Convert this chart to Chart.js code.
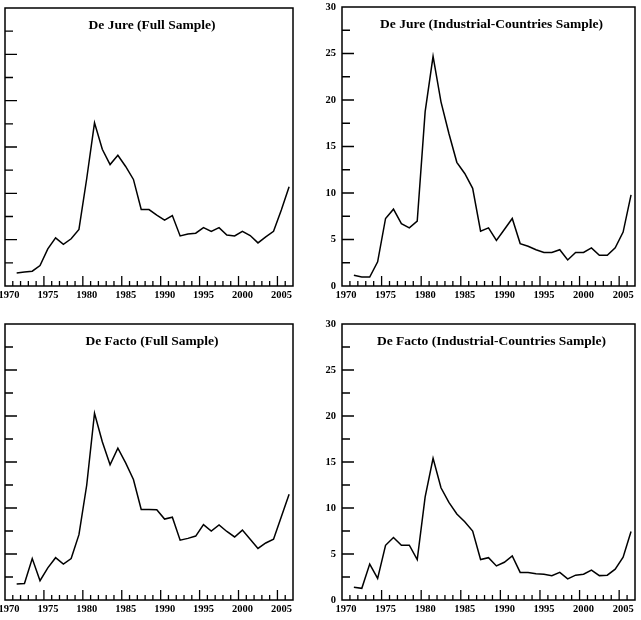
<!DOCTYPE html>
<html>
<head>
<meta charset="utf-8">
<script src="https://cdn.jsdelivr.net/npm/chart.js@4"></script>
<style>
  html, body { margin: 0; padding: 0; background: #fff; overflow: hidden; }
  body { width: 641px; height: 620px; position: relative; }
  .panel { position: absolute; }
</style>
</head>
<body>
<div class="panel" style="left:0px;top:0px;width:300px;height:310px"><canvas id="c1"></canvas></div>
<div class="panel" style="left:300px;top:0px;width:341px;height:310px"><canvas id="c2"></canvas></div>
<div class="panel" style="left:0px;top:310px;width:300px;height:310px"><canvas id="c3"></canvas></div>
<div class="panel" style="left:300px;top:310px;width:341px;height:310px"><canvas id="c4"></canvas></div>
<script>
// annual values, 1971-2006
var years = [];
for (var yr = 1971; yr <= 2006; yr++) years.push(yr);

var deJureFull = [1.4, 1.5, 1.6, 2.2, 4.0, 5.2, 4.5, 5.1, 6.1, 11.6, 17.6, 14.75, 13.1, 14.1, 12.9, 11.5,
  8.25, 8.25, 7.65, 7.1, 7.6, 5.4, 5.6, 5.7, 6.3, 5.9, 6.3, 5.5, 5.4, 5.9, 5.45, 4.65, 5.3, 5.9, 8.2, 10.7];
var deJureInd = [1.15, 0.97, 0.97, 2.6, 7.26, 8.26, 6.7, 6.25, 6.97, 18.75, 24.7, 19.8, 16.4, 13.3, 12.1, 10.5,
  5.9, 6.25, 4.9, 6.07, 7.26, 4.56, 4.28, 3.9, 3.6, 3.6, 3.9, 2.8, 3.6, 3.6, 4.1, 3.3, 3.3, 4.1, 5.8, 9.8];
var deFactoFull = [1.74, 1.8, 4.5, 2.1, 3.5, 4.6, 3.9, 4.5, 7.1, 12.5, 20.3, 17.2, 14.7, 16.5, 14.9, 13.1,
  9.85, 9.85, 9.8, 8.8, 9.0, 6.5, 6.7, 6.95, 8.2, 7.5, 8.15, 7.45, 6.85, 7.6, 6.6, 5.6, 6.2, 6.6, 9.05, 11.5];
var deFactoInd = [1.38, 1.27, 3.9, 2.35, 5.95, 6.8, 5.95, 5.95, 4.4, 11.2, 15.4, 12.2, 10.6, 9.35, 8.5, 7.5,
  4.4, 4.6, 3.7, 4.1, 4.8, 3.0, 3.0, 2.85, 2.8, 2.65, 3.0, 2.3, 2.7, 2.8, 3.25, 2.65, 2.7, 3.35, 4.65, 7.45];

var xTickLabels = [1970, 1975, 1980, 1985, 1990, 1995, 2000, 2005];
var yTickLabels = [0, 5, 10, 15, 20, 25, 30];

var serif = '"Liberation Serif", "DejaVu Serif", serif';

// box, inward tick marks and the title inside the plot
var framePlugin = {
  id: 'frame',
  afterDatasetsDraw(chart, args, opts) {
    var ctx = chart.ctx, a = chart.chartArea, x = chart.scales.x, y = chart.scales.y;
    ctx.save();
    ctx.strokeStyle = '#000';
    ctx.lineWidth = 1.3;
    ctx.beginPath();
    for (var v = 1971; v < 2007; v++) {
      var px = x.getPixelForValue(v);
      ctx.moveTo(px, a.bottom);
      ctx.lineTo(px, a.bottom - (v % 5 === 0 ? 10 : 5));
    }
    for (var w = 2.5; w < 30; w += 2.5) {
      var py = y.getPixelForValue(w);
      ctx.moveTo(a.left, py);
      ctx.lineTo(a.left + (w % 5 === 0 ? 12 : 8), py);
    }
    ctx.stroke();
    ctx.lineWidth = 1.5;
    ctx.strokeRect(a.left, a.top, a.right - a.left, a.bottom - a.top);
    ctx.fillStyle = '#000';
    ctx.font = 'bold 13.5px ' + serif;
    ctx.textAlign = 'center';
    ctx.textBaseline = 'middle';
    ctx.fillText(opts.text, (a.left + a.right) / 2 + 3, a.top + 18);
    ctx.restore();
  }
};

function makeChart(id, title, values, showY, yw, pad, xh) {
  return new Chart(document.getElementById(id), {
    type: 'line',
    data: {
      datasets: [{
        data: years.map((d, i) => ({ x: d + 0.5, y: values[i] })),
        borderColor: '#000',
        borderWidth: 1.5,
        pointRadius: 0,
        tension: 0,
        fill: false
      }]
    },
    options: {
      responsive: true,
      maintainAspectRatio: false,
      animation: false,
      layout: { padding: pad },
      plugins: {
        legend: { display: false },
        tooltip: { enabled: false },
        frame: { text: title }
      },
      scales: {
        x: {
          type: 'linear',
          min: 1970,
          max: 2007,
          grid: { display: false, drawTicks: false },
          border: { display: false },
          afterBuildTicks: s => { s.ticks = xTickLabels.map(v => ({ value: v })); },
          afterFit: s => { s.height = xh; s.paddingLeft = 0; s.paddingRight = 0; },
          ticks: {
            maxRotation: 0,
            autoSkip: false,
            labelOffset: 4,
            padding: 3,
            color: '#000',
            font: { family: serif, size: 10.5, weight: 'bold' },
            callback: v => String(v)
          }
        },
        y: {
          min: 0,
          max: 30,
          grid: { display: false, drawTicks: false },
          border: { display: false },
          afterBuildTicks: s => { s.ticks = yTickLabels.map(v => ({ value: v })); },
          afterFit: s => { s.width = yw; s.paddingTop = 0; s.paddingBottom = 0; },
          ticks: {
            display: showY,
            padding: 6,
            color: '#000',
            font: { family: serif, size: 10.5, weight: 'bold' }
          }
        }
      }
    },
    plugins: [framePlugin]
  });
}

makeChart('c1', 'De Jure (Full Sample)', deJureFull, false, 5, { top: 8, right: 7, bottom: 0, left: 0 }, 24);
makeChart('c2', 'De Jure (Industrial-Countries Sample)', deJureInd, true, 42, { top: 7, right: 6, bottom: 0, left: 0 }, 24);
makeChart('c3', 'De Facto (Full Sample)', deFactoFull, false, 5, { top: 14, right: 7, bottom: 0, left: 0 }, 20);
makeChart('c4', 'De Facto (Industrial-Countries Sample)', deFactoInd, true, 42, { top: 14, right: 6, bottom: 0, left: 0 }, 20);
</script>
</body>
</html>
